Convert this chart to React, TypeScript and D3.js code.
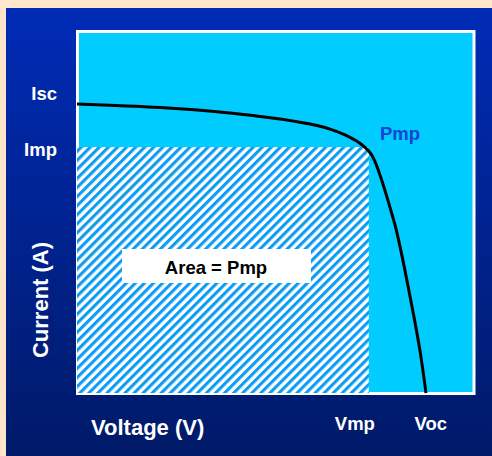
import React from "react";
import * as d3 from "d3";

const W = 492;
const H = 456;

// I-V curve points (voltage, current) in arbitrary units (0..100)
const voltage = [0, 20.96, 38.64, 51.26, 58.84, 63.89, 67.68, 70.71, 72.73, 74.24, 75.51, 76.77, 78.03, 79.29, 80.56, 82.07, 83.59, 85.1, 86.62, 88.13];
const current = [80.3, 79.3, 77.8, 76.1, 74.7, 73.3, 71.7, 69.9, 68.2, 66.4, 63.6, 59.7, 55.3, 50.6, 45.6, 38.1, 29.7, 21.1, 11.7, 0];

const Vmp = 73.7;
const Imp = 68.3;
const Voc = 88.1;
const Isc = 80.3;

const yLabels = [
  { text: "Isc", value: Isc, dy: -4 },
  { text: "Imp", value: Imp, dy: 9 },
];
const xLabels = [
  { text: "Vmp", value: Vmp, dx: -14 },
  { text: "Voc", value: Voc, dx: 5 },
];

export default function App() {
  const x = d3.scaleLinear().domain([0, 100]).range([77, 473]);
  const y = d3.scaleLinear().domain([0, 100]).range([393, 33]);

  const pts: [number, number][] = voltage.map((v, i) => [v, current[i]]);
  const line = d3
    .line<[number, number]>()
    .x((d) => x(d[0]))
    .y((d) => y(d[1]))
    .curve(d3.curveCatmullRom.alpha(0.5));

  const font = "'Liberation Sans', Arial, Helvetica, sans-serif";

  return (
    <svg
      width={W}
      height={H}
      style={{ position: "absolute", left: 0, top: 0, display: "block" }}
      fontFamily={font}
    >
      <defs>
        <linearGradient id="bg" x1="0" y1="0" x2="0" y2="1">
          <stop offset="0" stopColor="#002BB6" />
          <stop offset="1" stopColor="#001A68" />
        </linearGradient>
        <pattern
          id="hatch"
          patternUnits="userSpaceOnUse"
          width={6.4}
          height={6.4}
          patternTransform="rotate(45)"
        >
          <rect x={0} y={0} width={6.4} height={6.4} fill="#ffffff" />
          <rect x={0} y={0} width={3.1} height={6.4} fill="#0E9BF2" />
        </pattern>
      </defs>

      <rect x={0} y={0} width={W} height={H} fill="#FFE5C9" />
      <rect x={6} y={8} width={W - 6} height={H - 8} fill="url(#bg)" />

      {/* plot area */}
      <rect x={77.5} y={31.5} width={396.5} height={362} fill="#00CCFF" stroke="#ffffff" strokeWidth={3} />

      {/* hatched power rectangle */}
      <rect
        x={x(0)}
        y={y(Imp)}
        width={x(Vmp) - x(0)}
        height={y(0) - y(Imp)}
        fill="url(#hatch)"
      />

      {/* I-V curve */}
      <path d={line(pts) || ""} fill="none" stroke="#000000" strokeWidth={3} />

      {/* Area label */}
      <rect x={122} y={249} width={189} height={34} fill="#ffffff" />
      <text x={216} y={274} textAnchor="middle" fontSize={18.5} fontWeight="bold" fill="#000000">
        Area = Pmp
      </text>

      <text x={380} y={140} fontSize={18.5} fontWeight="bold" fill="#1445D4">
        Pmp
      </text>

      {yLabels.map((l) => (
        <text
          key={l.text}
          x={57}
          y={y(l.value) + l.dy}
          textAnchor="end"
          fontSize={18.5}
          fontWeight="bold"
          fill="#ffffff"
        >
          {l.text}
        </text>
      ))}

      {xLabels.map((l) => (
        <text
          key={l.text}
          x={x(l.value) + l.dx}
          y={430}
          textAnchor="middle"
          fontSize={18.5}
          fontWeight="bold"
          fill="#ffffff"
        >
          {l.text}
        </text>
      ))}

      <text x={91} y={435} fontSize={22} fontWeight="bold" fill="#ffffff">
        Voltage (V)
      </text>
      <text
        transform="translate(48,300) rotate(-90)"
        textAnchor="middle"
        fontSize={22}
        fontWeight="bold"
        fill="#ffffff"
      >
        Current (A)
      </text>
    </svg>
  );
}
